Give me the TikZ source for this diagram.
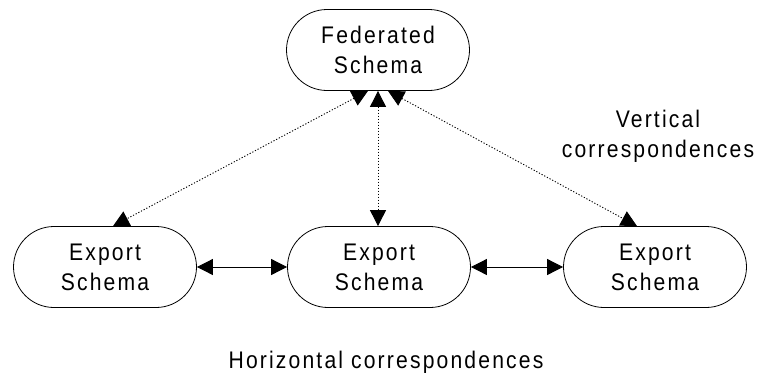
\documentclass[tikz,border=0pt]{standalone}
\usepackage{fontspec}
\setmainfont{Liberation Sans}[FakeStretch=0.88,LetterSpace=9]
\usetikzlibrary{arrows.meta,shapes.misc}
\begin{document}
\begin{tikzpicture}[x=1pt,y=-1pt,
		schema/.style={draw=black,rounded rectangle,line width=0.8pt,
			minimum width=183pt,minimum height=81pt,inner sep=0pt,
			align=center,font=\fontsize{24}{30}\selectfont},
		tip/.tip={Triangle[length=16pt,width=16pt]},
		vlink/.style={tip-tip,line width=0.9pt,dash pattern=on 1.2pt off 1.8pt},
		hlink/.style={tip-tip,line width=0.8pt},
		lbl/.style={align=center,font=\fontsize{24}{30}\selectfont}]
		\useasboundingbox (0,0) rectangle (761,378);
		
		\node[schema] (fed) at (378,50) {Federated\\Schema};
		\node[schema] (exp1) at (105,267) {Export\\Schema};
		\node[schema] (exp2) at (379,267) {Export\\Schema};
		\node[schema] (exp3) at (655,267) {Export\\Schema};
		
		%vertical correspondences
		\draw[vlink] ([xshift=-10pt]fed.south) -- ([xshift=8pt]exp1.north);
		\draw[vlink] (fed.south) -- (fed.south |- exp2.north);
		\draw[vlink] ([xshift=10pt]fed.south) -- ([xshift=-18pt]exp3.north);
		
		%horizontal correspondences
		\draw[hlink] (exp1.east) -- (exp2.west);
		\draw[hlink] (exp2.east) -- (exp3.west);
		
		\node[lbl] (vlabel) at (658,136) {Vertical\\correspondences};
		\node[lbl] (hlabel) at (386,362) {Horizontal correspondences};
\end{tikzpicture}
\end{document}
